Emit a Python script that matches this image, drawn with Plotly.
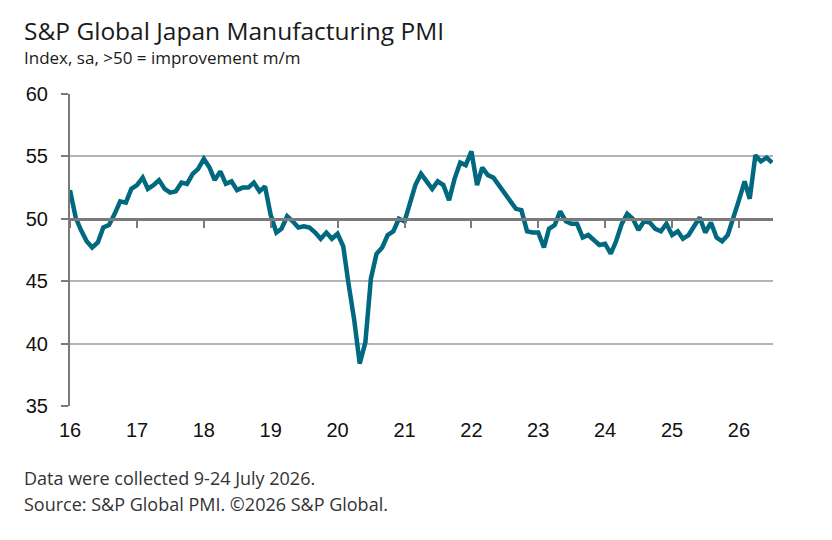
import pandas as pd
import plotly.graph_objects as go

# PMI mensuel, janvier 2016 -> juillet 2026
pmi_2016 = [52.3, 50.1, 49.1, 48.2, 47.7, 48.1, 49.3, 49.5, 50.4, 51.4, 51.3, 52.4]
pmi_2017 = [52.7, 53.3, 52.4, 52.7, 53.1, 52.4, 52.1, 52.2, 52.9, 52.8, 53.6, 54.0]
pmi_2018 = [54.8, 54.1, 53.1, 53.8, 52.8, 53.0, 52.3, 52.5, 52.5, 52.9, 52.2, 52.6]
pmi_2019 = [50.3, 48.9, 49.2, 50.2, 49.8, 49.3, 49.4, 49.3, 48.9, 48.4, 48.9, 48.4]
pmi_2020 = [48.8, 47.8, 44.8, 41.9, 38.4, 40.1, 45.2, 47.2, 47.7, 48.7, 49.0, 50.0]
pmi_2021 = [49.8, 51.4, 52.7, 53.6, 53.0, 52.4, 53.0, 52.7, 51.5, 53.2, 54.5, 54.3]
pmi_2022 = [55.4, 52.7, 54.1, 53.5, 53.3, 52.7, 52.1, 51.5, 50.8, 50.7, 49.0, 48.9]
pmi_2023 = [48.9, 47.7, 49.2, 49.5, 50.6, 49.8, 49.6, 49.6, 48.5, 48.7, 48.3, 47.9]
pmi_2024 = [48.0, 47.2, 48.2, 49.6, 50.4, 50.0, 49.1, 49.8, 49.7, 49.2, 49.0, 49.6]
pmi_2025 = [48.7, 49.0, 48.4, 48.7, 49.4, 50.1, 48.9, 49.7, 48.5, 48.2, 48.7, 50.0]
pmi_2026 = [51.5, 53.0, 51.6, 55.1, 54.6, 54.9, 54.5]

pmi = (pmi_2016 + pmi_2017 + pmi_2018 + pmi_2019 + pmi_2020 + pmi_2021
       + pmi_2022 + pmi_2023 + pmi_2024 + pmi_2025 + pmi_2026)
dates = pd.date_range("2016-01-01", periods=len(pmi), freq="MS")

year_ticks = pd.date_range("2016-01-01", "2026-01-01", freq="YS")
year_labels = ["16", "17", "18", "19", "20", "21", "22", "23", "24", "25", "26"]

x_range = ["2016-01-01", "2026-07-06"]
y_range = [35, 60]

TEAL = "#00687f"
GRID = "#b4b4b4"
AXIS = "#7a7a7a"
TXT_FONT = "Open Sans"
NUM_FONT = "Liberation Sans"

fig = go.Figure()

fig.add_trace(go.Scatter(
    x=dates, y=pmi,
    mode="lines",
    line=dict(color=TEAL, width=4.5),
    hovertemplate="%{x|%b %Y}: %{y:.1f}<extra></extra>",
    showlegend=False,
))

fig.update_layout(
    width=832, height=540,
    margin=dict(l=70, r=59, t=94, b=134),
    paper_bgcolor="white",
    plot_bgcolor="white",
    xaxis=dict(
        type="date",
        range=x_range,
        tickvals=year_ticks,
        ticktext=year_labels,
        showgrid=False,
        showline=False,
        zeroline=False,
        ticks="",
        ticklabelstandoff=10,
        tickfont=dict(family=NUM_FONT, size=20, color="#111111"),
    ),
    # axe secondaire : ligne des 50 avec les graduations annuelles
    xaxis2=dict(
        type="date",
        overlaying="x",
        matches="x",
        anchor="free",
        position=(50 - y_range[0]) / (y_range[1] - y_range[0]),
        range=x_range,
        tickvals=year_ticks,
        showticklabels=False,
        showgrid=False,
        zeroline=False,
        showline=True,
        linecolor=AXIS,
        linewidth=3,
        ticks="outside",
        ticklen=7,
        tickwidth=2,
        tickcolor=AXIS,
    ),
    yaxis=dict(
        range=y_range,
        dtick=5,
        showgrid=True,
        gridcolor=GRID,
        gridwidth=2,
        zeroline=False,
        showline=True,
        linecolor=AXIS,
        linewidth=2,
        ticks="outside",
        ticklen=7,
        tickwidth=2,
        tickcolor=AXIS,
        ticklabelstandoff=9,
        tickfont=dict(family=NUM_FONT, size=20, color="#111111"),
    ),
)

# trace invisible pour que l'axe x2 soit bien dessiné
fig.add_trace(go.Scatter(
    x=[dates[0]], y=[50], xaxis="x2", mode="markers",
    marker=dict(opacity=0), hoverinfo="skip", showlegend=False,
))

# Titre, sous-titre et notes de bas de page
texts = [
    ("S&P Global Japan Manufacturing PMI", 1.205, 24.5, "#1a1a1a"),
    ("Index, sa, >50 = improvement m/m", 1.1154, 17, "#1a1a1a"),
    ("Data were collected 9-24 July 2026.", -0.231, 18, "#333333"),
    ("Source: S&P Global PMI. ©2026 S&P Global.", -0.314, 18, "#333333"),
]
for txt, ypos, size, color in texts:
    fig.add_annotation(
        text=txt, xref="paper", yref="paper",
        x=-0.0683, y=ypos, xanchor="left", yanchor="middle",
        showarrow=False,
        font=dict(family=TXT_FONT, size=size, color=color),
    )

# pas de marge de page autour du graphique
fig.write_html("out.html", config={"displayModeBar": False},
               post_script="document.body.style.margin = '0';")
